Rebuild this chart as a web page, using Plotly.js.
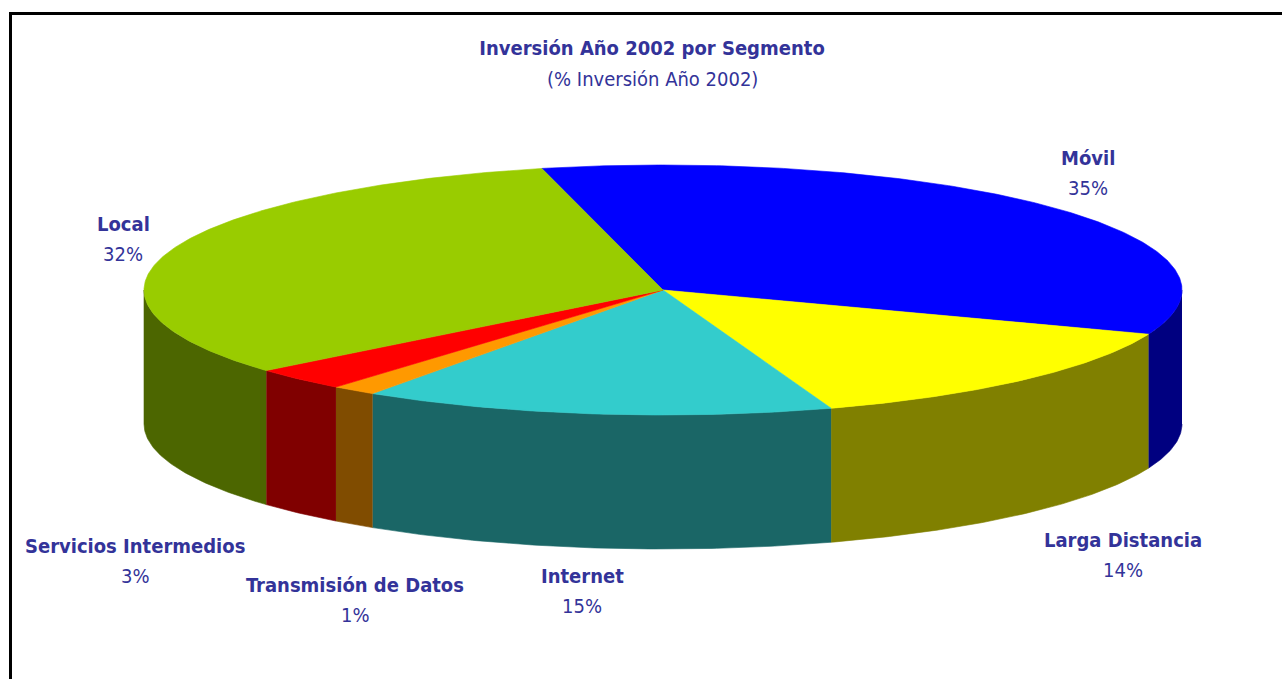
<!DOCTYPE html>
<html>
<head>
<meta charset="utf-8">
<script src="https://cdn.plot.ly/plotly-3.0.1.min.js"></script>
<style>html,body{margin:0;padding:0;background:#fff;}#chart{width:1282px;height:679px;}</style>
</head>
<body>
<div id="chart"></div>
<script>
// ---- data ----
var categories = ["Móvil", "Larga Distancia", "Internet", "Transmisión de Datos", "Servicios Intermedios", "Local"];
var shares = [34.5, 14.0, 14.7, 1.4, 3.0, 32.4];
var topColors = ["#0000FF", "#FFFF00", "#33CCCC", "#FF9900", "#FF0000", "#99CC00"];
var sideColors = ["#000080", "#808000", "#1A6666", "#804C00", "#800000", "#4C6600"];
var chartTitle = "Inversión Año 2002 por Segmento";
var chartSubtitle = "(% Inversión Año 2002)";

// ---- layout geometry (pixel units on the axes) ----
var CX = 663, CY = 290, RX = 519, RY = 125, DEPTH = 134, START = -13.5;
var labelPos = [[1088, 158], [1123, 540], [582, 576], [355, 585], [135, 546], [123, 224]];
var LINE_GAP = 30;

var FONT = "'Liberation Sans Narrow', 'Arial Narrow', 'DejaVu Sans Condensed', sans-serif";
var TXT = "#333399";
var FS = 20;

function pt(deg, dy) {
  var r = deg * Math.PI / 180;
  return [CX + RX * Math.sin(r), CY - RY * Math.cos(r) + (dy || 0)];
}

var total = shares.reduce(function (a, b) { return a + b; }, 0);
var traces = [];
var tops = [];
var a0 = START;
for (var i = 0; i < shares.length; i++) {
  var a1 = a0 + shares[i] / total * 360;
  // top face
  var xs = [CX], ys = [CY];
  var n = Math.max(2, Math.ceil((a1 - a0) / 0.5));
  for (var k = 0; k <= n; k++) {
    var p = pt(a0 + (a1 - a0) * k / n);
    xs.push(p[0]); ys.push(p[1]);
  }
  xs.push(CX); ys.push(CY);
  tops.push({x: xs, y: ys, type: "scatter", mode: "lines", fill: "toself",
    fillcolor: topColors[i], line: {color: topColors[i], width: 0.6},
    hoverinfo: "text", text: categories[i], showlegend: false});
  // front side wall (visible between 90 and 270 deg)
  var s0 = Math.max(a0, 90), s1 = Math.min(a1, 270);
  if (s1 > s0) {
    var wx = [], wy = [];
    var m = Math.max(2, Math.ceil((s1 - s0) / 0.5));
    for (var k2 = 0; k2 <= m; k2++) {
      var q = pt(s0 + (s1 - s0) * k2 / m);
      wx.push(q[0]); wy.push(q[1]);
    }
    for (var k3 = m; k3 >= 0; k3--) {
      var q2 = pt(s0 + (s1 - s0) * k3 / m, DEPTH);
      wx.push(q2[0]); wy.push(q2[1]);
    }
    traces.push({x: wx, y: wy, type: "scatter", mode: "lines", fill: "toself",
      fillcolor: sideColors[i], line: {color: sideColors[i], width: 0.6},
      hoverinfo: "skip", showlegend: false});
  }
  a0 = a1;
}
traces = traces.concat(tops);

var annotations = [];
categories.forEach(function (c, i) {
  annotations.push({x: labelPos[i][0], y: labelPos[i][1], xref: "x", yref: "y",
    text: "<b>" + c + "</b>", showarrow: false, xanchor: "center", yanchor: "middle",
    font: {family: FONT, size: FS, color: TXT}});
  annotations.push({x: labelPos[i][0], y: labelPos[i][1] + LINE_GAP, xref: "x", yref: "y",
    text: Math.round(shares[i]) + "%", showarrow: false, xanchor: "center", yanchor: "middle",
    font: {family: FONT, size: FS, color: TXT}});
});
annotations.push({x: 652, y: 79, xref: "x", yref: "y", text: chartSubtitle,
  showarrow: false, xanchor: "center", yanchor: "middle",
  font: {family: FONT, size: FS, color: TXT}});

var layout = {
  width: 1282, height: 679,
  margin: {l: 0, r: 0, t: 0, b: 0},
  paper_bgcolor: "#ffffff", plot_bgcolor: "#ffffff",
  title: {text: "<b>" + chartTitle + "</b>",
    x: 652 / 1282, xanchor: "center", y: 1 - 48 / 679, yanchor: "middle",
    font: {family: FONT, size: FS, color: TXT}},
  xaxis: {range: [0, 1282], visible: false, fixedrange: true},
  yaxis: {range: [679, 0], visible: false, fixedrange: true},
  annotations: annotations,
  shapes: [{type: "path", xref: "x", yref: "y",
    path: "M 10.5 690 L 10.5 13.5 L 1290 13.5",
    line: {color: "#000000", width: 3}}],
  showlegend: false
};

Plotly.newPlot("chart", traces, layout, {displayModeBar: false, staticPlot: true});
</script>
</body>
</html>
